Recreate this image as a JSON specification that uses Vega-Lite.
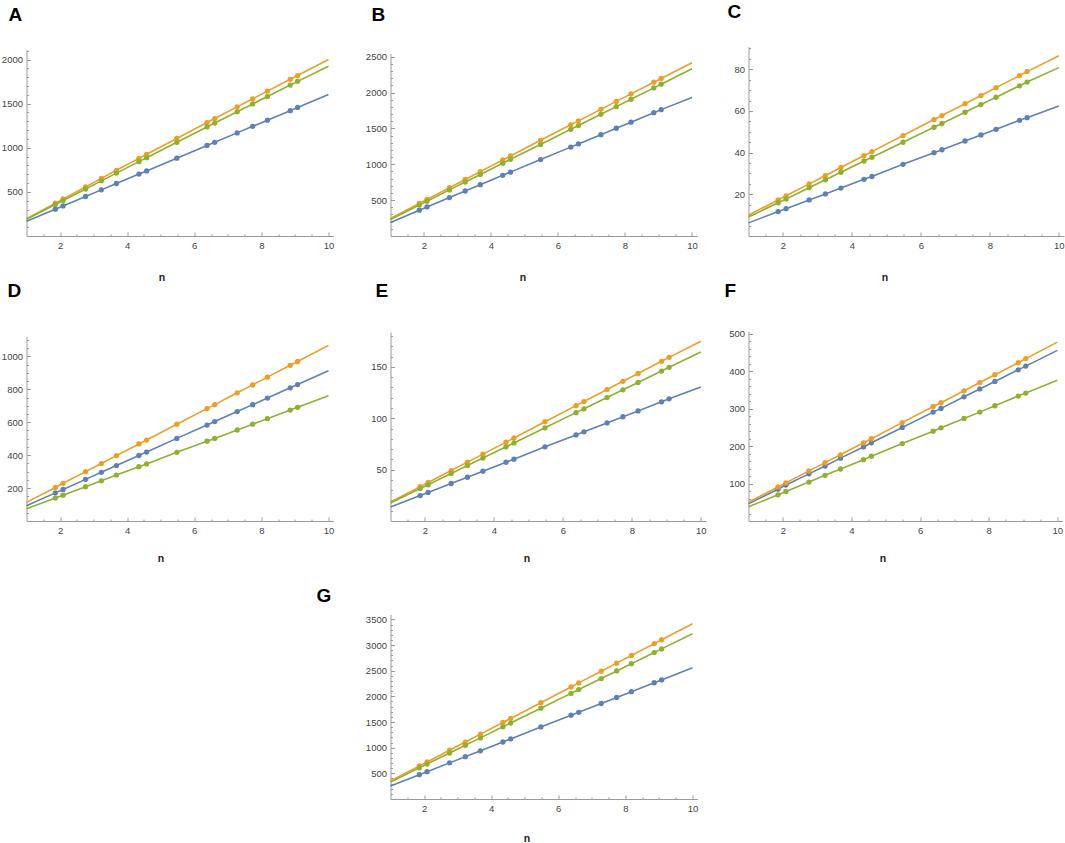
{
"$schema": "https://vega.github.io/schema/vega-lite/v6.json",
"background": "white",
"padding": {"left": 0.5, "top": 3, "right": 0, "bottom": 0},
"config": {"view": {"stroke": null}, "font": "Liberation Sans",
 "axis": {"grid": false, "domainColor": "#9a9a9a", "tickColor": "#9a9a9a", "labelColor": "#444444", "labelFont": "Liberation Sans", "labelFontSize": 9.5, "titleFont": "Liberation Sans", "titleFontWeight": "bold", "titleFontSize": 10.5, "titleColor": "#222222", "labelOverlap": false, "labelFlush": false, "format": "d"},
 "title": {"anchor": "start", "frame": "group", "font": "Liberation Sans", "fontSize": 19, "fontWeight": "bold", "color": "#000000", "baseline": "alphabetic"}
},
"datasets": {
"A": [{"n":1,"s1":167,"s2":197,"s3":190,"obs":false},{"n":1.86,"s1":304,"s2":372,"s3":358,"obs":true},{"n":2.09,"s1":341,"s2":420,"s3":403,"obs":true},{"n":2.76,"s1":448,"s2":557,"s3":533,"obs":true},{"n":3.23,"s1":523,"s2":653,"s3":625,"obs":true},{"n":3.68,"s1":595,"s2":745,"s3":713,"obs":true},{"n":4.35,"s1":702,"s2":880,"s3":843,"obs":true},{"n":4.58,"s1":738,"s2":926,"s3":888,"obs":true},{"n":5.48,"s1":882,"s2":1106,"s3":1062,"obs":true},{"n":6.38,"s1":1026,"s2":1286,"s3":1236,"obs":true},{"n":6.61,"s1":1062,"s2":1331,"s3":1280,"obs":true},{"n":7.28,"s1":1169,"s2":1464,"s3":1409,"obs":true},{"n":7.74,"s1":1243,"s2":1555,"s3":1497,"obs":true},{"n":8.18,"s1":1313,"s2":1642,"s3":1581,"obs":true},{"n":8.86,"s1":1421,"s2":1776,"s3":1711,"obs":true},{"n":9.08,"s1":1457,"s2":1819,"s3":1753,"obs":true},{"n":10,"s1":1603,"s2":2000,"s3":1924,"obs":false}],
"B": [{"n":1,"s1":188,"s2":244,"s3":230,"obs":false},{"n":1.86,"s1":360,"s2":455,"s3":432,"obs":true},{"n":2.09,"s1":405,"s2":511,"s3":486,"obs":true},{"n":2.76,"s1":536,"s2":674,"s3":643,"obs":true},{"n":3.23,"s1":628,"s2":788,"s3":753,"obs":true},{"n":3.68,"s1":716,"s2":898,"s3":859,"obs":true},{"n":4.35,"s1":846,"s2":1061,"s3":1016,"obs":true},{"n":4.58,"s1":891,"s2":1117,"s3":1070,"obs":true},{"n":5.48,"s1":1066,"s2":1335,"s3":1277,"obs":true},{"n":6.38,"s1":1240,"s2":1551,"s3":1488,"obs":true},{"n":6.61,"s1":1285,"s2":1606,"s3":1541,"obs":true},{"n":7.28,"s1":1414,"s2":1767,"s3":1698,"obs":true},{"n":7.74,"s1":1503,"s2":1878,"s3":1805,"obs":true},{"n":8.18,"s1":1588,"s2":1983,"s3":1908,"obs":true},{"n":8.86,"s1":1720,"s2":2146,"s3":2066,"obs":true},{"n":9.08,"s1":1763,"s2":2198,"s3":2118,"obs":true},{"n":10,"s1":1933,"s2":2416,"s3":2333,"obs":false}],
"C": [{"n":1,"s1":6.3,"s2":10.0,"s3":9.1,"obs":false},{"n":1.86,"s1":11.7,"s2":17.3,"s3":16.0,"obs":true},{"n":2.09,"s1":13.1,"s2":19.3,"s3":17.8,"obs":true},{"n":2.76,"s1":17.3,"s2":25.0,"s3":23.2,"obs":true},{"n":3.23,"s1":20.2,"s2":29.0,"s3":27.0,"obs":true},{"n":3.68,"s1":23.0,"s2":32.9,"s3":30.6,"obs":true},{"n":4.35,"s1":27.2,"s2":38.6,"s3":36.0,"obs":true},{"n":4.58,"s1":28.6,"s2":40.5,"s3":37.8,"obs":true},{"n":5.48,"s1":34.4,"s2":48.2,"s3":45.0,"obs":true},{"n":6.38,"s1":40.0,"s2":55.9,"s3":52.2,"obs":true},{"n":6.61,"s1":41.4,"s2":57.8,"s3":54.0,"obs":true},{"n":7.28,"s1":45.6,"s2":63.5,"s3":59.4,"obs":true},{"n":7.74,"s1":48.5,"s2":67.4,"s3":63.1,"obs":true},{"n":8.18,"s1":51.2,"s2":71.2,"s3":66.6,"obs":true},{"n":8.86,"s1":55.5,"s2":77.0,"s3":72.1,"obs":true},{"n":9.08,"s1":56.8,"s2":78.9,"s3":73.9,"obs":true},{"n":10,"s1":62.4,"s2":86.5,"s3":80.8,"obs":false}],
"D": [{"n":1,"s1":93,"s2":113,"s3":74,"obs":false},{"n":1.86,"s1":171,"s2":204,"s3":140,"obs":true},{"n":2.09,"s1":192,"s2":229,"s3":157,"obs":true},{"n":2.76,"s1":253,"s2":300,"s3":208,"obs":true},{"n":3.23,"s1":296,"s2":349,"s3":244,"obs":true},{"n":3.68,"s1":337,"s2":397,"s3":279,"obs":true},{"n":4.35,"s1":398,"s2":468,"s3":330,"obs":true},{"n":4.58,"s1":419,"s2":492,"s3":347,"obs":true},{"n":5.48,"s1":502,"s2":588,"s3":417,"obs":true},{"n":6.38,"s1":583,"s2":683,"s3":485,"obs":true},{"n":6.61,"s1":604,"s2":707,"s3":502,"obs":true},{"n":7.28,"s1":665,"s2":779,"s3":553,"obs":true},{"n":7.74,"s1":707,"s2":827,"s3":588,"obs":true},{"n":8.18,"s1":747,"s2":874,"s3":622,"obs":true},{"n":8.86,"s1":809,"s2":946,"s3":674,"obs":true},{"n":9.08,"s1":829,"s2":969,"s3":691,"obs":true},{"n":10,"s1":913,"s2":1067,"s3":761,"obs":false}],
"E": [{"n":1,"s1":13.6,"s2":18.5,"s3":17.5,"obs":false},{"n":1.86,"s1":24.8,"s2":33.5,"s3":31.6,"obs":true},{"n":2.09,"s1":27.8,"s2":37.5,"s3":35.3,"obs":true},{"n":2.76,"s1":36.5,"s2":49.1,"s3":46.3,"obs":true},{"n":3.23,"s1":42.6,"s2":57.3,"s3":54.0,"obs":true},{"n":3.68,"s1":48.5,"s2":65.1,"s3":61.3,"obs":true},{"n":4.35,"s1":57.2,"s2":76.8,"s3":72.3,"obs":true},{"n":4.58,"s1":60.2,"s2":80.8,"s3":76.0,"obs":true},{"n":5.48,"s1":72.2,"s2":96.7,"s3":90.7,"obs":true},{"n":6.38,"s1":83.8,"s2":112.3,"s3":105.5,"obs":true},{"n":6.61,"s1":86.8,"s2":116.3,"s3":109.2,"obs":true},{"n":7.28,"s1":95.5,"s2":128.0,"s3":120.2,"obs":true},{"n":7.74,"s1":101.5,"s2":136.0,"s3":127.7,"obs":true},{"n":8.18,"s1":107.2,"s2":143.6,"s3":134.9,"obs":true},{"n":8.86,"s1":116.0,"s2":155.5,"s3":146.0,"obs":true},{"n":9.08,"s1":118.9,"s2":159.3,"s3":149.6,"obs":true},{"n":10,"s1":130.5,"s2":175,"s3":164.6,"obs":false}],
"F": [{"n":1,"s1":46,"s2":50,"s3":38,"obs":false},{"n":1.86,"s1":85,"s2":91,"s3":70,"obs":true},{"n":2.09,"s1":96,"s2":102,"s3":79,"obs":true},{"n":2.76,"s1":126,"s2":134,"s3":104,"obs":true},{"n":3.23,"s1":147,"s2":156,"s3":122,"obs":true},{"n":3.68,"s1":168,"s2":177,"s3":139,"obs":true},{"n":4.35,"s1":198,"s2":209,"s3":164,"obs":true},{"n":4.58,"s1":209,"s2":220,"s3":173,"obs":true},{"n":5.48,"s1":250,"s2":263,"s3":207,"obs":true},{"n":6.38,"s1":291,"s2":306,"s3":240,"obs":true},{"n":6.61,"s1":301,"s2":316,"s3":249,"obs":true},{"n":7.28,"s1":332,"s2":348,"s3":274,"obs":true},{"n":7.74,"s1":353,"s2":370,"s3":291,"obs":true},{"n":8.18,"s1":373,"s2":391,"s3":308,"obs":true},{"n":8.86,"s1":404,"s2":423,"s3":334,"obs":true},{"n":9.08,"s1":414,"s2":434,"s3":342,"obs":true},{"n":10,"s1":456,"s2":478,"s3":376,"obs":false}],
"G": [{"n":1,"s1":253,"s2":351,"s3":331,"obs":false},{"n":1.86,"s1":473,"s2":644,"s3":607,"obs":true},{"n":2.09,"s1":532,"s2":722,"s3":681,"obs":true},{"n":2.76,"s1":704,"s2":950,"s3":896,"obs":true},{"n":3.23,"s1":824,"s2":1110,"s3":1047,"obs":true},{"n":3.68,"s1":939,"s2":1264,"s3":1191,"obs":true},{"n":4.35,"s1":1111,"s2":1492,"s3":1406,"obs":true},{"n":4.58,"s1":1170,"s2":1570,"s3":1480,"obs":true},{"n":5.48,"s1":1404,"s2":1877,"s3":1769,"obs":true},{"n":6.38,"s1":1633,"s2":2183,"s3":2058,"obs":true},{"n":6.61,"s1":1689,"s2":2262,"s3":2132,"obs":true},{"n":7.28,"s1":1861,"s2":2490,"s3":2347,"obs":true},{"n":7.74,"s1":1979,"s2":2647,"s3":2495,"obs":true},{"n":8.18,"s1":2091,"s2":2796,"s3":2636,"obs":true},{"n":8.86,"s1":2265,"s2":3028,"s3":2854,"obs":true},{"n":9.08,"s1":2321,"s2":3103,"s3":2925,"obs":true},{"n":10,"s1":2558,"s2":3416,"s3":3221,"obs":false}]
},
"columns": 3,
"bounds": "flush",
"spacing": {"row": 88, "column": 40},
"resolve": {"scale": {"x": "independent", "y": "independent"}},
"concat": [
{"width": 324, "height": 190, "title": {"text": "A", "dx": -18, "offset": 21},
 "data": {"name": "A"}, "transform": [{"fold": ["s1","s2","s3"], "as": ["series","value"]}],
 "encoding": {
  "x": {"field": "n", "type": "quantitative", "scale": {"domain": [1, 10.15], "range": [0, 307], "nice": false, "zero": false},
   "axis": {"title": "n", "values": [1.5,2,2.5,3,3.5,4,4.5,5,5.5,6,6.5,7,7.5,8,8.5,9,9.5,10], "tickSize": {"condition": {"test": "datum.value % 2 === 0", "value": -4}, "value": -2}, "labelExpr": "datum.value % 2 === 0 ? datum.label : ''", "labelPadding": 8, "titleX": 135, "titleY": 44.5, "titleBaseline": "alphabetic"}},
  "y": {"field": "value", "type": "quantitative", "scale": {"domain": [0, 2113], "range": [190, 3.6], "nice": false, "zero": true},
   "axis": {"title": null, "values": [100,200,300,400,500,600,700,800,900,1000,1100,1200,1300,1400,1500,1600,1700,1800,1900,2000,2100], "tickSize": {"condition": {"test": "datum.value % 500 === 0", "value": -4}, "value": -2}, "labelExpr": "datum.value % 500 === 0 ? datum.label : ''", "labelPadding": 8}},
  "color": {"field": "series", "type": "nominal", "scale": {"domain": ["s1","s2","s3"], "range": ["#5E81B5","#EC9F25","#8FB032"]}, "legend": null}
 },
 "layer": [{"mark": {"type": "line", "strokeWidth": 1.6}}, {"transform": [{"filter": "datum.obs"}], "mark": {"type": "circle", "size": 28, "opacity": 1}}]
},
{"width": 318, "height": 190, "title": {"text": "B", "dx": -19, "offset": 21},
 "data": {"name": "B"}, "transform": [{"fold": ["s1","s2","s3"], "as": ["series","value"]}],
 "encoding": {
  "x": {"field": "n", "type": "quantitative", "scale": {"domain": [1, 10.15], "range": [0, 306.5], "nice": false, "zero": false},
   "axis": {"title": "n", "values": [1.5,2,2.5,3,3.5,4,4.5,5,5.5,6,6.5,7,7.5,8,8.5,9,9.5,10], "tickSize": {"condition": {"test": "datum.value % 2 === 0", "value": -4}, "value": -2}, "labelExpr": "datum.value % 2 === 0 ? datum.label : ''", "labelPadding": 8, "titleX": 132, "titleY": 44.5, "titleBaseline": "alphabetic"}},
  "y": {"field": "value", "type": "quantitative", "scale": {"domain": [0, 2546], "range": [190, 7.5], "nice": false, "zero": true},
   "axis": {"title": null, "values": [100,200,300,400,500,600,700,800,900,1000,1100,1200,1300,1400,1500,1600,1700,1800,1900,2000,2100,2200,2300,2400,2500], "tickSize": {"condition": {"test": "datum.value % 500 === 0", "value": -4}, "value": -2}, "labelExpr": "datum.value % 500 === 0 ? datum.label : ''", "labelPadding": 8}},
  "color": {"field": "series", "type": "nominal", "scale": {"domain": ["s1","s2","s3"], "range": ["#5E81B5","#EC9F25","#8FB032"]}, "legend": null}
 },
 "layer": [{"mark": {"type": "line", "strokeWidth": 1.6}}, {"transform": [{"filter": "datum.obs"}], "mark": {"type": "circle", "size": 28, "opacity": 1}}]
},
{"width": 318, "height": 190, "title": {"text": "C", "dx": -21, "offset": 21},
 "data": {"name": "C"}, "transform": [{"fold": ["s1","s2","s3"], "as": ["series","value"]}],
 "encoding": {
  "x": {"field": "n", "type": "quantitative", "scale": {"domain": [1, 10.15], "range": [0, 315.5], "nice": false, "zero": false},
   "axis": {"title": "n", "values": [1.5,2,2.5,3,3.5,4,4.5,5,5.5,6,6.5,7,7.5,8,8.5,9,9.5,10], "tickSize": {"condition": {"test": "datum.value % 2 === 0", "value": -4}, "value": -2}, "labelExpr": "datum.value % 2 === 0 ? datum.label : ''", "labelPadding": 8, "titleX": 136, "titleY": 44.5, "titleBaseline": "alphabetic"}},
  "y": {"field": "value", "type": "quantitative", "scale": {"domain": [0, 90.9], "range": [190, 0.6], "nice": false, "zero": true},
   "axis": {"title": null, "values": [5,10,15,20,25,30,35,40,45,50,55,60,65,70,75,80,85,90], "tickSize": {"condition": {"test": "datum.value % 20 === 0", "value": -4}, "value": -2}, "labelExpr": "datum.value % 20 === 0 ? datum.label : ''", "labelPadding": 8}},
  "color": {"field": "series", "type": "nominal", "scale": {"domain": ["s1","s2","s3"], "range": ["#5E81B5","#EC9F25","#8FB032"]}, "legend": null}
 },
 "layer": [{"mark": {"type": "line", "strokeWidth": 1.6}}, {"transform": [{"filter": "datum.obs"}], "mark": {"type": "circle", "size": 28, "opacity": 1}}]
},
{"width": 324, "height": 197, "title": {"text": "D", "dx": -19, "offset": 23},
 "data": {"name": "D"}, "transform": [{"fold": ["s1","s2","s3"], "as": ["series","value"]}],
 "encoding": {
  "x": {"field": "n", "type": "quantitative", "scale": {"domain": [1, 10.15], "range": [0, 307], "nice": false, "zero": false},
   "axis": {"title": "n", "values": [1.5,2,2.5,3,3.5,4,4.5,5,5.5,6,6.5,7,7.5,8,8.5,9,9.5,10], "tickSize": {"condition": {"test": "datum.value % 2 === 0", "value": -4}, "value": -2}, "labelExpr": "datum.value % 2 === 0 ? datum.label : ''", "labelPadding": 8, "titleX": 134, "titleY": 40, "titleBaseline": "alphabetic"}},
  "y": {"field": "value", "type": "quantitative", "scale": {"domain": [0, 1121], "range": [197, 12.5], "nice": false, "zero": true},
   "axis": {"title": null, "values": [50,100,150,200,250,300,350,400,450,500,550,600,650,700,750,800,850,900,950,1000,1050,1100], "tickSize": {"condition": {"test": "datum.value % 200 === 0", "value": -4}, "value": -2}, "labelExpr": "datum.value % 200 === 0 ? datum.label : ''", "labelPadding": 8}},
  "color": {"field": "series", "type": "nominal", "scale": {"domain": ["s1","s2","s3"], "range": ["#5E81B5","#EC9F25","#8FB032"]}, "legend": null}
 },
 "layer": [{"mark": {"type": "line", "strokeWidth": 1.6}}, {"transform": [{"filter": "datum.obs"}], "mark": {"type": "circle", "size": 28, "opacity": 1}}]
},
{"width": 318, "height": 197, "title": {"text": "E", "dx": -15, "offset": 23},
 "data": {"name": "E"}, "transform": [{"fold": ["s1","s2","s3"], "as": ["series","value"]}],
 "encoding": {
  "x": {"field": "n", "type": "quantitative", "scale": {"domain": [1, 10.15], "range": [0, 315.5], "nice": false, "zero": false},
   "axis": {"title": "n", "values": [1.5,2,2.5,3,3.5,4,4.5,5,5.5,6,6.5,7,7.5,8,8.5,9,9.5,10], "tickSize": {"condition": {"test": "datum.value % 2 === 0", "value": -4}, "value": -2}, "labelExpr": "datum.value % 2 === 0 ? datum.label : ''", "labelPadding": 8, "titleX": 136, "titleY": 40, "titleBaseline": "alphabetic"}},
  "y": {"field": "value", "type": "quantitative", "scale": {"domain": [0, 184], "range": [197, 8], "nice": false, "zero": true},
   "axis": {"title": null, "values": [10,20,30,40,50,60,70,80,90,100,110,120,130,140,150,160,170,180], "tickSize": {"condition": {"test": "datum.value % 50 === 0", "value": -4}, "value": -2}, "labelExpr": "datum.value % 50 === 0 ? datum.label : ''", "labelPadding": 8}},
  "color": {"field": "series", "type": "nominal", "scale": {"domain": ["s1","s2","s3"], "range": ["#5E81B5","#EC9F25","#8FB032"]}, "legend": null}
 },
 "layer": [{"mark": {"type": "line", "strokeWidth": 1.6}}, {"transform": [{"filter": "datum.obs"}], "mark": {"type": "circle", "size": 28, "opacity": 1}}]
},
{"width": 318, "height": 197, "title": {"text": "F", "dx": -24, "offset": 23},
 "data": {"name": "F"}, "transform": [{"fold": ["s1","s2","s3"], "as": ["series","value"]}],
 "encoding": {
  "x": {"field": "n", "type": "quantitative", "scale": {"domain": [1, 10.15], "range": [0, 314], "nice": false, "zero": false},
   "axis": {"title": "n", "values": [1.5,2,2.5,3,3.5,4,4.5,5,5.5,6,6.5,7,7.5,8,8.5,9,9.5,10], "tickSize": {"condition": {"test": "datum.value % 2 === 0", "value": -4}, "value": -2}, "labelExpr": "datum.value % 2 === 0 ? datum.label : ''", "labelPadding": 8, "titleX": 134, "titleY": 40, "titleBaseline": "alphabetic"}},
  "y": {"field": "value", "type": "quantitative", "scale": {"domain": [0, 507], "range": [197, 7.3], "nice": false, "zero": true},
   "axis": {"title": null, "values": [20,40,60,80,100,120,140,160,180,200,220,240,260,280,300,320,340,360,380,400,420,440,460,480,500], "tickSize": {"condition": {"test": "datum.value % 100 === 0", "value": -4}, "value": -2}, "labelExpr": "datum.value % 100 === 0 ? datum.label : ''", "labelPadding": 8}},
  "color": {"field": "series", "type": "nominal", "scale": {"domain": ["s1","s2","s3"], "range": ["#5E81B5","#EC9F25","#8FB032"]}, "legend": null}
 },
 "layer": [{"mark": {"type": "line", "strokeWidth": 1.6}}, {"transform": [{"filter": "datum.obs"}], "mark": {"type": "circle", "size": 28, "opacity": 1}}]
},
{"width": 324, "height": 190, "data": {"values": []}, "mark": {"type": "point", "opacity": 0}, "encoding": {}},
{"width": 318, "height": 190, "title": {"text": "G", "dx": -74, "offset": 3.3},
 "data": {"name": "G"}, "transform": [{"fold": ["s1","s2","s3"], "as": ["series","value"]}],
 "encoding": {
  "x": {"field": "n", "type": "quantitative", "scale": {"domain": [1, 10.15], "range": [0, 307], "nice": false, "zero": false},
   "axis": {"title": "n", "values": [1.5,2,2.5,3,3.5,4,4.5,5,5.5,6,6.5,7,7.5,8,8.5,9,9.5,10], "tickSize": {"condition": {"test": "datum.value % 2 === 0", "value": -4}, "value": -2}, "labelExpr": "datum.value % 2 === 0 ? datum.label : ''", "labelPadding": 8, "titleX": 136, "titleY": 42, "titleBaseline": "alphabetic"}},
  "y": {"field": "value", "type": "quantitative", "scale": {"domain": [0, 3597], "range": [190, 5.4], "nice": false, "zero": true},
   "axis": {"title": null, "values": [100,200,300,400,500,600,700,800,900,1000,1100,1200,1300,1400,1500,1600,1700,1800,1900,2000,2100,2200,2300,2400,2500,2600,2700,2800,2900,3000,3100,3200,3300,3400,3500], "tickSize": {"condition": {"test": "datum.value % 500 === 0", "value": -4}, "value": -2}, "labelExpr": "datum.value % 500 === 0 ? datum.label : ''", "labelPadding": 8}},
  "color": {"field": "series", "type": "nominal", "scale": {"domain": ["s1","s2","s3"], "range": ["#5E81B5","#EC9F25","#8FB032"]}, "legend": null}
 },
 "layer": [{"mark": {"type": "line", "strokeWidth": 1.6}}, {"transform": [{"filter": "datum.obs"}], "mark": {"type": "circle", "size": 28, "opacity": 1}}]
}
]
}
